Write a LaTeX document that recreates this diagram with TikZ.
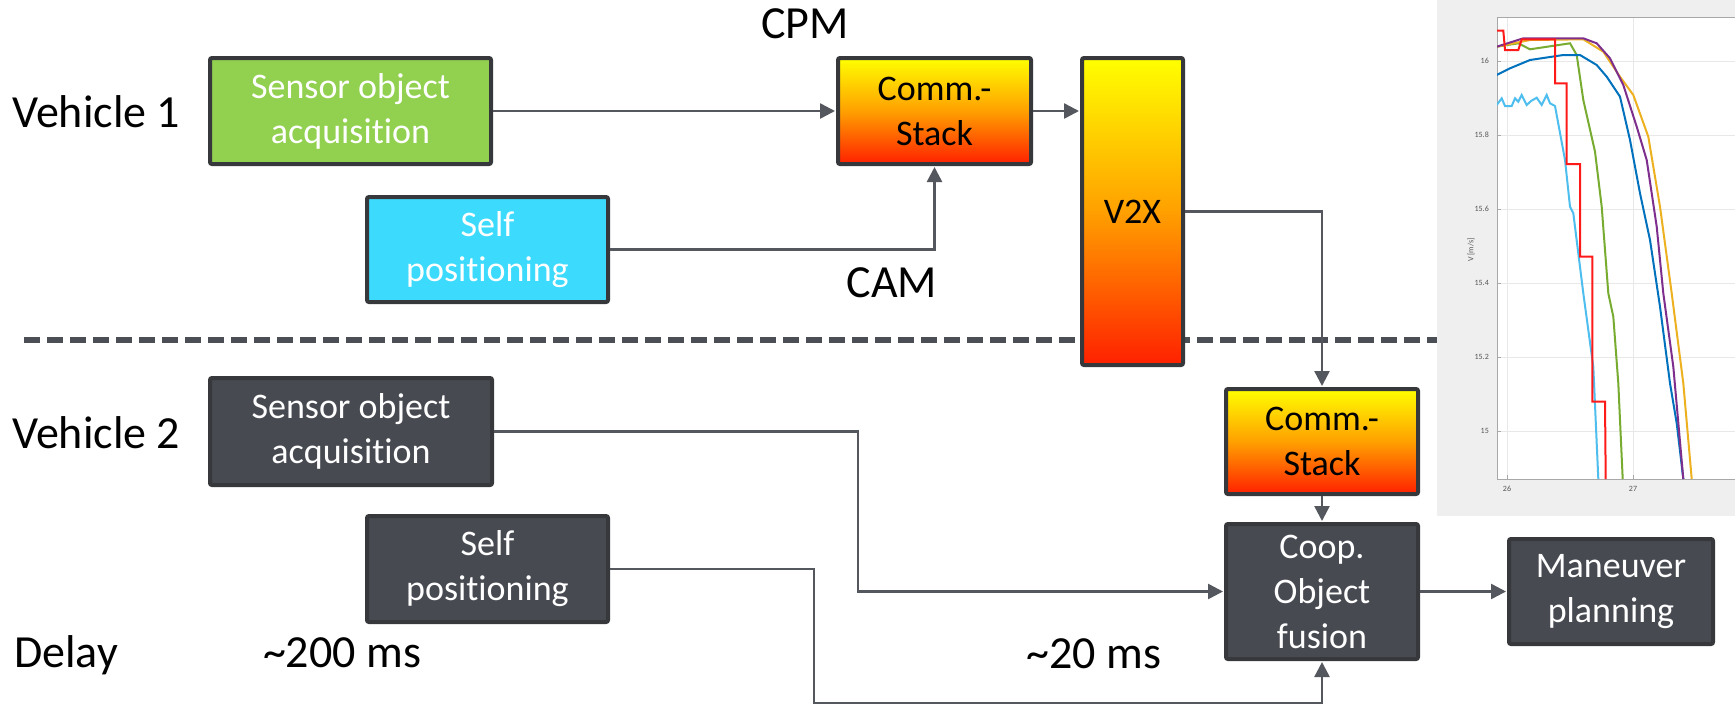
\documentclass[tikz,border=0pt]{standalone}
\usepackage{fontspec}
\setmainfont{Carlito}[Ligatures={NoCommon}, RawFeature={-liga;-clig;-dlig}]
\usetikzlibrary{arrows.meta}
\definecolor{cgreen}{HTML}{92D050}
\definecolor{ccyan}{HTML}{3CDBFE}
\definecolor{cdark}{HTML}{474A51}
\definecolor{bordc}{HTML}{37383C}
\definecolor{connc}{HTML}{54575D}
\definecolor{dashc}{HTML}{4B4E54}
\definecolor{gy}{HTML}{FFFF00}
\definecolor{go}{HTML}{FFA000}
\definecolor{gr}{HTML}{FF2000}
\definecolor{chbg}{HTML}{EFEFEF}
\definecolor{chax}{HTML}{A8A8A8}
\definecolor{chgrid}{HTML}{E8E8E8}
\definecolor{chtxt}{HTML}{555555}
\definecolor{mblue}{HTML}{0072BD}
\definecolor{mred}{HTML}{FF1A1A}
\definecolor{mgreen}{HTML}{77AC30}
\definecolor{mcyan}{HTML}{4DBEEE}
\definecolor{mpurple}{HTML}{7E2F8E}
\definecolor{myellow}{HTML}{EDB120}
\newcommand\mybxfont{\fontsize{36}{45}\selectfont}
\newcommand\mylbfont{\fontsize{46}{55}\selectfont}
\newcommand\mychfont{\fontsize{8}{9}\selectfont}
\tikzset{
  box/.style={draw=bordc, line width=4pt, rounded corners=2pt, inner sep=0pt, align=center, font=\mybxfont, text=white},
  grad/.style={box, text=black, top color=gy, bottom color=gr, middle color=go},
  conn/.style={draw=connc, line width=2.5pt, -{Triangle[length=15pt,width=15pt]}, shorten >=1pt},
  lbl/.style={font=\mylbfont, text=black, inner sep=0pt},
  curve/.style={line width=2pt, line join=miter},
  ticklbl/.style={font=\mychfont, text=chtxt, inner sep=0pt},
}
\begin{document}
\begin{tikzpicture}[x=1pt,y=-1pt]
\useasboundingbox (0,0) rectangle (1735,705);
\fill[white] (0,0) rectangle (1735,705);

% dashed separator
\draw[dashc, line width=5.5pt, dash pattern=on 16pt off 7pt] (24,340) -- (1437,340);

% labels
\node[lbl, anchor=base west] (veh1) at (12,127) {Vehicle 1};
\node[lbl, anchor=base west] (veh2) at (12,448) {Vehicle 2};
\node[lbl, anchor=base west] (delay) at (14,667) {Delay};
\node[lbl, anchor=base] (d200) at (342,667) {\char`\~200 ms};
\node[lbl, anchor=base] (d20) at (1094,668) {\char`\~20 ms};
\node[lbl, anchor=base] (cpm) at (805,38) {CPM};
\node[lbl, anchor=base] (cam) at (892,297) {CAM};

% vehicle 1 boxes
\node[box, fill=cgreen, minimum width=281pt, minimum height=106pt] (sa1) at (350.5,111) {Sensor object\\acquisition};
\node[box, fill=ccyan, minimum width=241pt, minimum height=105pt] (sp1) at (487.5,249.5) {Self\\positioning};
\node[grad, minimum width=193pt, minimum height=106pt] (cs1) at (934.5,111) {Comm.-\\Stack};
\node[grad, minimum width=101pt, minimum height=307pt] (v2x) at (1132.5,211.5) {V2X};

% vehicle 2 boxes
\node[box, fill=cdark, minimum width=282pt, minimum height=107pt] (sa2) at (351,431.5) {Sensor object\\acquisition};
\node[box, fill=cdark, minimum width=241pt, minimum height=106pt] (sp2) at (487.5,569) {Self\\positioning};
\node[grad, minimum width=192pt, minimum height=105pt] (cs2) at (1322,441.5) {Comm.-\\Stack};
\node[box, fill=cdark, minimum width=192pt, minimum height=135pt] (coop) at (1322,591.5) {Coop.\\Object\\fusion};
\node[box, fill=cdark, minimum width=204pt, minimum height=105pt] (man) at (1611,591.5) {Maneuver\\planning};

% bend points
\coordinate (b1) at (858,0);
\coordinate (b2) at (814,703);

% connectors
\draw[conn] (sa1.east) -- (sa1.east -| cs1.west);
\draw[conn] (cs1.east) -- (cs1.east -| v2x.west);
\draw[conn] (sp1.east) -| (cs1.south);
\draw[conn] (v2x.east) -| (cs2.north);
\draw[conn] (cs2.south) -- (coop.north);
\draw[conn] (sa2.east) -| (b1 |- coop.west) -- (coop.west);
\draw[conn] (sp2.east) -| (b2) -| (coop.south);
\draw[conn] (coop.east) -- (coop.east -| man.west);

% chart
\fill[chbg] (1437,0) rectangle (1735,516);
\fill[white] (1497,17) rectangle (1735,479);
\foreach \yy in {61,135,209,283,357,431} \draw[chgrid, line width=0.8pt] (1497,\yy) -- (1735,\yy);
\foreach \xx in {1507,1633} \draw[chgrid, line width=0.8pt] (\xx,17) -- (\xx,479);
\draw[chax, line width=1pt] (1735,17) -- (1497,17) -- (1497,479) -- (1735,479);
\foreach \yy in {61,135,209,283,357,431} \draw[chax, line width=0.8pt] (1497,\yy) -- (1501,\yy);
\foreach \xx in {1507,1633} \draw[chax, line width=0.8pt] (\xx,479) -- (\xx,475);
\node[ticklbl, anchor=east] (t16) at (1489,61) {16};
\node[ticklbl, anchor=east] (t158) at (1489,135) {15.8};
\node[ticklbl, anchor=east] (t156) at (1489,209) {15.6};
\node[ticklbl, anchor=east] (t154) at (1489,283) {15.4};
\node[ticklbl, anchor=east] (t152) at (1489,357) {15.2};
\node[ticklbl, anchor=east] (t15) at (1489,431) {15};
\node[ticklbl] (x26) at (1507,489) {26};
\node[ticklbl] (x27) at (1633,489) {27};
\node[ticklbl, rotate=90] (ylab) at (1471,250) {V [m/s]};
\begin{scope}
\clip (1497,17) rectangle (1735,479);
\draw[curve, mcyan] (1496.7,105) -- (1501.7,98.3) -- (1505,106) -- (1511.7,106) -- (1515,98.3) -- (1518.3,101.7) -- (1521.7,95) -- (1526.7,105) -- (1531,101) -- (1536.7,97.7) -- (1541.7,105) -- (1546.7,95) -- (1550,103.3) -- (1555,106) -- (1565,160) -- (1570,206.7) -- (1573.3,213.3) -- (1583.3,293.3) -- (1593.3,366.7) -- (1598.3,479);
\draw[curve, mgreen] (1496.7,46.7) -- (1518.3,43.3) -- (1530,49.3) -- (1570,43.3) -- (1576.7,55) -- (1583.3,100) -- (1595,151.7) -- (1601.7,206.7) -- (1608.3,293.3) -- (1613.3,316.7) -- (1618.3,383.3) -- (1622.7,479);
\draw[curve, mblue] (1496.7,75) -- (1510,68.3) -- (1530,60) -- (1563.3,55) -- (1580,55) -- (1596.7,65) -- (1606.7,76.7) -- (1620,96.7) -- (1630,140) -- (1640,193.3) -- (1650,240) -- (1660,306.7) -- (1670,383.3) -- (1676.7,423.3) -- (1683.3,479);
\draw[curve, myellow] (1496.7,46.7) -- (1530,40) -- (1583.3,39.3) -- (1603.3,51.7) -- (1620,76.7) -- (1633.3,95) -- (1648.3,136.7) -- (1660,206.7) -- (1671.7,293.3) -- (1683.3,383.3) -- (1691.7,479);
\draw[curve, mpurple] (1496.7,46.7) -- (1523.3,38.3) -- (1583.3,38.3) -- (1596.7,43.3) -- (1610,58.3) -- (1623.3,85) -- (1636.7,126.7) -- (1646.7,160) -- (1656.7,226.7) -- (1663.3,293.3) -- (1673.3,366.7) -- (1683.3,479);
\draw[curve, mred] (1496.7,30.7) -- (1503.3,30.7) -- (1505,50) -- (1518.3,50) -- (1521.7,39.3) -- (1555,39.3) -- (1555,83.3) -- (1566.7,83.3) -- (1566.7,164) -- (1580,164) -- (1580,256.7) -- (1592.3,256.7) -- (1592.3,401.7) -- (1605,401.7) -- (1605.7,479);
\end{scope}
\end{tikzpicture}
\end{document}
